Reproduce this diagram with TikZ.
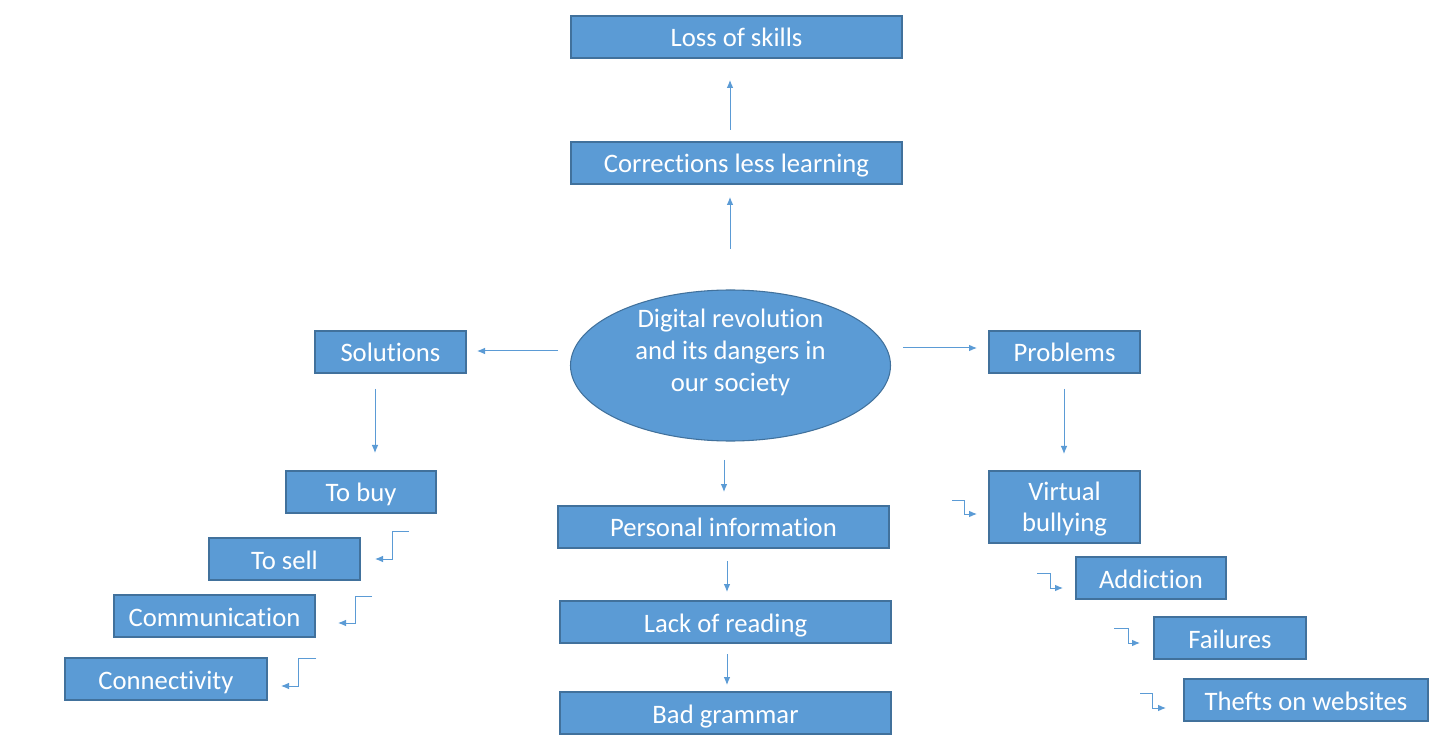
\documentclass[tikz,border=0pt]{standalone}
\usepackage{fontspec}
\setmainfont[Ligatures={NoCommon,NoContextual,NoRare}]{Carlito}
\usetikzlibrary{shapes.geometric,arrows.meta,calc}
\definecolor{boxfill}{HTML}{5B9BD5}
\definecolor{boxline}{HTML}{41719C}
\definecolor{arrcol}{HTML}{5B9BD5}
\begin{document}
\begin{tikzpicture}[x=0.75pt,y=-0.75pt,
  box/.style={draw=boxline,fill=boxfill,line width=1.1pt,text=white,inner sep=0pt,
    minimum height=31.5pt,align=center,text height=18pt,text depth=3pt,
    font=\fontsize{20}{24}\selectfont},
  hub/.style={ellipse,draw=boxline,fill=boxfill,line width=0.8pt,inner sep=0pt,
    minimum width=240pt,minimum height=113.25pt},
  hubtext/.style={text=white,inner sep=0pt,align=center,font=\fontsize{20}{24}\selectfont},
  arr/.style={draw=arrcol,line width=0.75pt,-{Latex[length=6pt,width=5pt]}}]
\useasboundingbox (0,0) rectangle (1440,745);
% nodes
\node[hub] (hub) at (730.5,365.5) {};
\node[hubtext] (hubt) at (730.5,352) {Digital revolution\\and its dangers in\\our society};
\node[box,minimum width=248.25pt] (loss) at (736.5,37) {Loss of skills};
\node[box,minimum width=248.25pt] (corr) at (736.5,163) {Corrections less learning};
\node[box,minimum width=113.25pt] (sol) at (390.5,352) {Solutions};
\node[box,minimum width=113.25pt] (prob) at (1064.5,352) {Problems};
\node[box,minimum width=112.5pt] (buy) at (361,492) {To buy};
\node[box,minimum width=113.25pt] (sell) at (284.5,559) {To sell};
\node[box,minimum width=150.75pt] (comm) at (214.5,616) {Communication};
\node[box,minimum width=151.5pt] (conn) at (166,679) {Connectivity};
\node[box,minimum width=113.25pt,minimum height=54pt,text height=41.5pt,text depth=4pt] (virt) at (1064.5,507) {Virtual\\bullying};
\node[box,minimum width=112.5pt] (addi) at (1151,578) {Addiction};
\node[box,minimum width=114pt] (fail) at (1230,638) {Failures};
\node[box,minimum width=183pt] (theft) at (1306,700) {Thefts on websites};
\node[box,minimum width=248.25pt] (pers) at (723.5,527) {Personal information};
\node[box,minimum width=248.25pt] (lack) at (725.5,622) {Lack of reading};
\node[box,minimum width=248.25pt] (bad) at (725.5,713) {Bad grammar};
% straight connectors (floating ends)
\coordinate (a1s) at (730,130); \coordinate (a1e) at (730,80);
\draw[arr] (a1s) -- (a1e);
\coordinate (a2s) at (730,249); \coordinate (a2e) at (730,197);
\draw[arr] (a2s) -- (a2e);
\coordinate (a3s) at (558,351); \coordinate (a3e) at (477,351);
\draw[arr] (a3s) -- (a3e);
\coordinate (a4s) at (903,348); \coordinate (a4e) at (977,348);
\draw[arr] (a4s) -- (a4e);
\coordinate (a5s) at (375,389); \coordinate (a5e) at (375,453);
\draw[arr] (a5s) -- (a5e);
\coordinate (a6s) at (1064,389); \coordinate (a6e) at (1064,454);
\draw[arr] (a6s) -- (a6e);
\coordinate (a7s) at (724,460); \coordinate (a7e) at (724,492);
\draw[arr] (a7s) -- (a7e);
\coordinate (a8s) at (727,561); \coordinate (a8e) at (727,592);
\draw[arr] (a8s) -- (a8e);
\coordinate (a9s) at (727,654); \coordinate (a9e) at (727,685);
\draw[arr] (a9s) -- (a9e);
% left elbows
\coordinate (b1s) at (409,531); \coordinate (b1e) at (375,559);
\draw[arr] (b1s) -- (392,531) -- (392,559) -- (b1e);
\coordinate (b2s) at (372,596); \coordinate (b2e) at (338,623);
\draw[arr] (b2s) -- (355,596) -- (355,623) -- (b2e);
\coordinate (b3s) at (316,658); \coordinate (b3e) at (281,686);
\draw[arr] (b3s) -- (298,658) -- (298,686) -- (b3e);
% right elbows
\coordinate (c1s) at (952,500); \coordinate (c1e) at (977,514);
\draw[arr] (c1s) -- (964,500) -- (964,514) -- (c1e);
\coordinate (c2s) at (1037,573); \coordinate (c2e) at (1063,588);
\draw[arr] (c2s) -- (1050,573) -- (1050,588) -- (c2e);
\coordinate (c3s) at (1114,628); \coordinate (c3e) at (1140,643);
\draw[arr] (c3s) -- (1128,628) -- (1128,643) -- (c3e);
\coordinate (c4s) at (1140,693); \coordinate (c4e) at (1166,708);
\draw[arr] (c4s) -- (1152,693) -- (1152,708) -- (c4e);
\end{tikzpicture}
\end{document}
